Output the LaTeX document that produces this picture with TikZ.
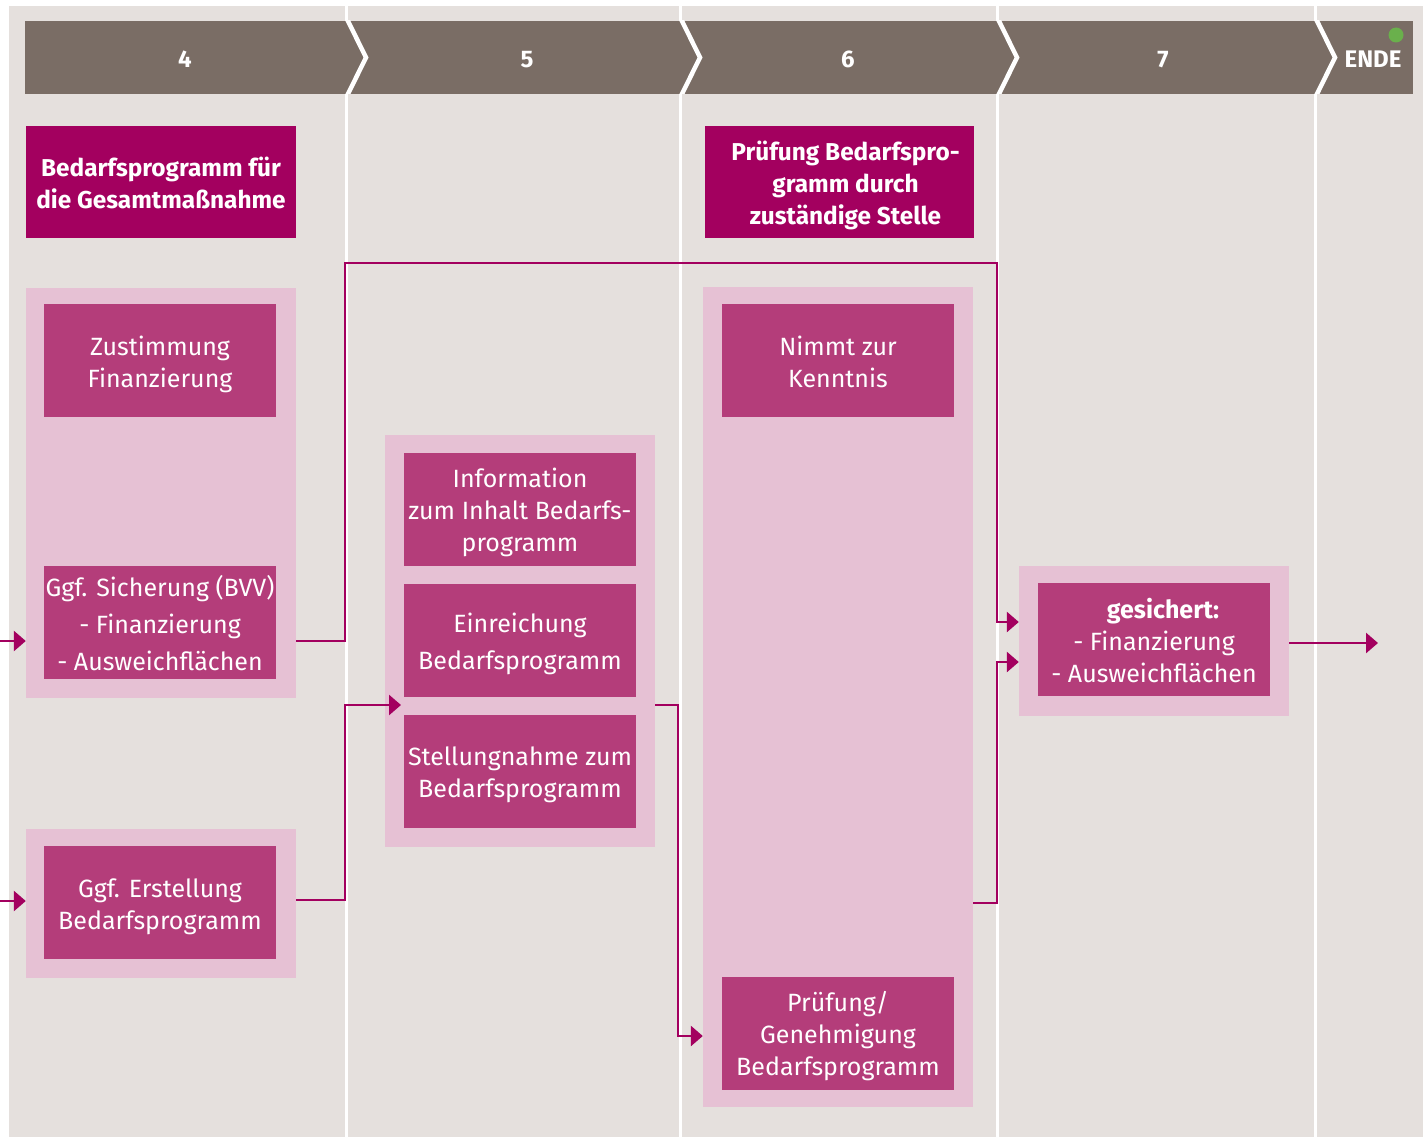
\documentclass[tikz,border=0pt]{standalone}
\usepackage{fontspec}
\setmainfont{Fira Sans}
\usetikzlibrary{arrows.meta}
\definecolor{bgc}{HTML}{E5E0DD}
\definecolor{bandc}{HTML}{7A6D65}
\definecolor{darkm}{HTML}{A3005F}
\definecolor{midm}{HTML}{B43D7A}
\definecolor{pinkc}{HTML}{E6C1D4}
\definecolor{greenc}{HTML}{6AB04C}
\newcommand\bxtop{\rule{0pt}{29pt}}
\newcommand\bxbot{\rule[-8pt]{0pt}{0pt}}
\tikzset{
  cont/.style={fill=pinkc, minimum width=270pt, inner sep=0pt},
  innerbox/.style={fill=midm, text=white, minimum width=232pt, minimum height=113pt, align=center, inner sep=0pt, font=\fontsize{25}{32}\selectfont},
  headbox/.style={fill=darkm, text=white, minimum height=112pt, align=center, inner sep=0pt, font=\bfseries\fontsize{24.4}{32}\selectfont},
  phase/.style={text=white, font=\bfseries\fontsize{24}{28}\selectfont, inner sep=0pt},
  divider/.style={draw=white, line width=3pt},
  chev/.style={draw=white, line width=4.5pt},
  conn/.style={draw=darkm, line width=2.7pt, -{Triangle[length=12pt,width=20pt]}}
}
\begin{document}
\begin{tikzpicture}[x=1pt,y=-1pt]
\useasboundingbox (0,0) rectangle (1423,1137);
\fill[bgc] (9,6) rectangle (1423,1137);
% column dividers
\foreach \xx in {346,680,997,1315} \draw[divider] (\xx,6) -- (\xx,1137);
% header band
\node[fill=bandc, minimum width=1388pt, minimum height=73pt, inner sep=0pt, anchor=north west] (band) at (25,21) {};
\begin{scope}
  \clip (25,21) rectangle (1413,94);
  \foreach \xx in {347,681,998,1316} \draw[chev] (\xx,19) -- (\xx+19,57.5) -- (\xx,96);
\end{scope}
\node[phase] (p4) at (185,59.5) {4};
\node[phase] (p5) at (527,59.5) {5};
\node[phase] (p6) at (848,59.5) {6};
\node[phase] (p7) at (1163,59.5) {7};
\node[phase] (pend) at (1373,59.5) {ENDE};
\fill[greenc] (1396,35) circle (7.5pt);
% header boxes
\node[headbox, minimum width=270pt] (h4) at (161,182) {\bxtop Bedarfsprogramm für\\die Gesamtmaßnahme\bxbot};
\node[headbox, minimum width=269pt] (h6) at (839.5,182) {\bxtop\hspace*{12pt}Prüfung Bedarfspro-\\\hspace*{12pt}gramm durch\\\hspace*{12pt}zuständige Stelle\bxbot};
% containers
\node[cont, minimum height=410pt] (c4a) at (161,493) {};
\node[cont, minimum height=149pt] (c4b) at (161,903.5) {};
\node[cont, minimum height=412pt] (c5) at (520,641) {};
\node[cont, minimum height=820pt] (c6) at (838,697) {};
\node[cont, minimum height=150pt] (c7) at (1154,641) {};
% inner boxes
\node[innerbox] (zust) at (160,360.5) {\bxtop Zustimmung\\Finanzierung\bxbot};
\node[innerbox, font=\fontsize{25}{37}\selectfont] (sich) at (160,622.5) {\bxtop Ggf. Sicherung (BVV)\\- Finanzierung\\- Ausweichflächen\bxbot};
\node[innerbox] (erst) at (160,902.5) {\bxtop Ggf. Erstellung\\Bedarfsprogramm\bxbot};
\node[innerbox] (info) at (520,509) {\bxtop Information\\zum Inhalt Bedarfs-\\programm\bxbot};
\node[innerbox, font=\fontsize{25}{37}\selectfont] (einr) at (520,640) {\bxtop Einreichung\\Bedarfsprogramm\bxbot};
\node[innerbox] (stell) at (520,771) {\bxtop Stellungnahme zum\\Bedarfsprogramm\bxbot};
\node[innerbox] (nimmt) at (838,360.5) {\bxtop Nimmt zur\\Kenntnis\bxbot};
\node[innerbox] (pruef) at (838,1033) {\bxtop Prüfung/\\Genehmigung\\Bedarfsprogramm\bxbot};
\node[innerbox] (ges) at (1154,639.5) {\bxtop\hspace*{18pt}\textbf{gesichert:}\\- Finanzierung\\- Ausweichflächen\bxbot};
% connector coordinates
\coordinate (in1) at (0,641);
\coordinate (in2) at (0,901);
\coordinate (j1) at (345,641);
\coordinate (top) at (997,263);
\coordinate (j2) at (345,900);
\coordinate (t5) at (401,705);
\coordinate (j3) at (678,705);
\coordinate (t6) at (703,1036);
\coordinate (j4) at (997,903);
\coordinate (t7a) at (1019,622);
\coordinate (t7b) at (1019,662);
\coordinate (out) at (1378,643);
% connectors
\draw[conn] (in1) -- (in1 -| c4a.west);
\draw[conn] (in2) -- (in2 -| c4b.west);
\draw[conn] (j1 -| c4a.east) -- (j1) |- (top) |- (t7a -| c7.west);
\draw[conn] (j2 -| c4b.east) -- (j2) |- (t5);
\draw[conn] (j3 -| c5.east) -- (j3) |- (t6 -| c6.west);
\draw[conn] (j4 -| c6.east) -- (j4) |- (t7b -| c7.west);
\draw[conn] (out -| c7.east) -- (out);
\end{tikzpicture}
\end{document}
